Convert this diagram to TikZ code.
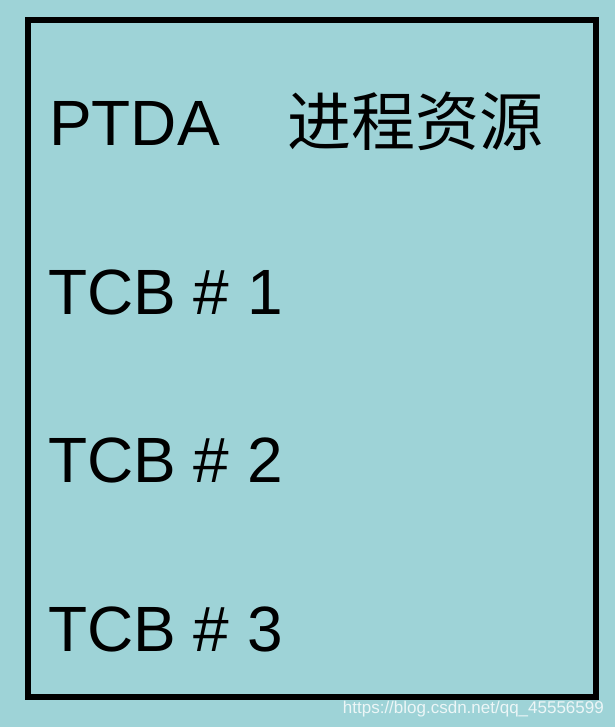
\documentclass[tikz,border=0pt]{standalone}
\usepackage{fontspec}
\setmainfont{Liberation Sans}
\newfontfamily\cjk{Noto Sans CJK SC}
\definecolor{bgteal}{RGB}{158,211,215}

\begin{document}
\begin{tikzpicture}[x=1pt,y=-1pt,
    big/.style={anchor=base west,inner sep=0pt,font=\fontsize{64}{64}\selectfont},
    wmark/.style={anchor=base east,inner sep=0pt,text=white!80!bgteal,font=\fontsize{17}{17}\selectfont}]
  \fill[bgteal] (0,0) rectangle (615,727);
  \useasboundingbox (0,0) rectangle (615,727);
  \draw[line width=5.5pt] (28,20) rectangle (596,697);
  % rows
  \node[big] (ptda) at (49,146) {PTDA};
  \node[big] (res) at (287,146) {\cjk 进程资源};
  \node[big] (tcb1) at (48,314) {TCB \# 1};
  \node[big] (tcb2) at (48,482) {TCB \# 2};
  \node[big] (tcb3) at (48,651) {TCB \# 3};
  \node[wmark] (url) at (604,713) {https://blog.csdn.net/qq\_45556599};
\end{tikzpicture}
\end{document}
